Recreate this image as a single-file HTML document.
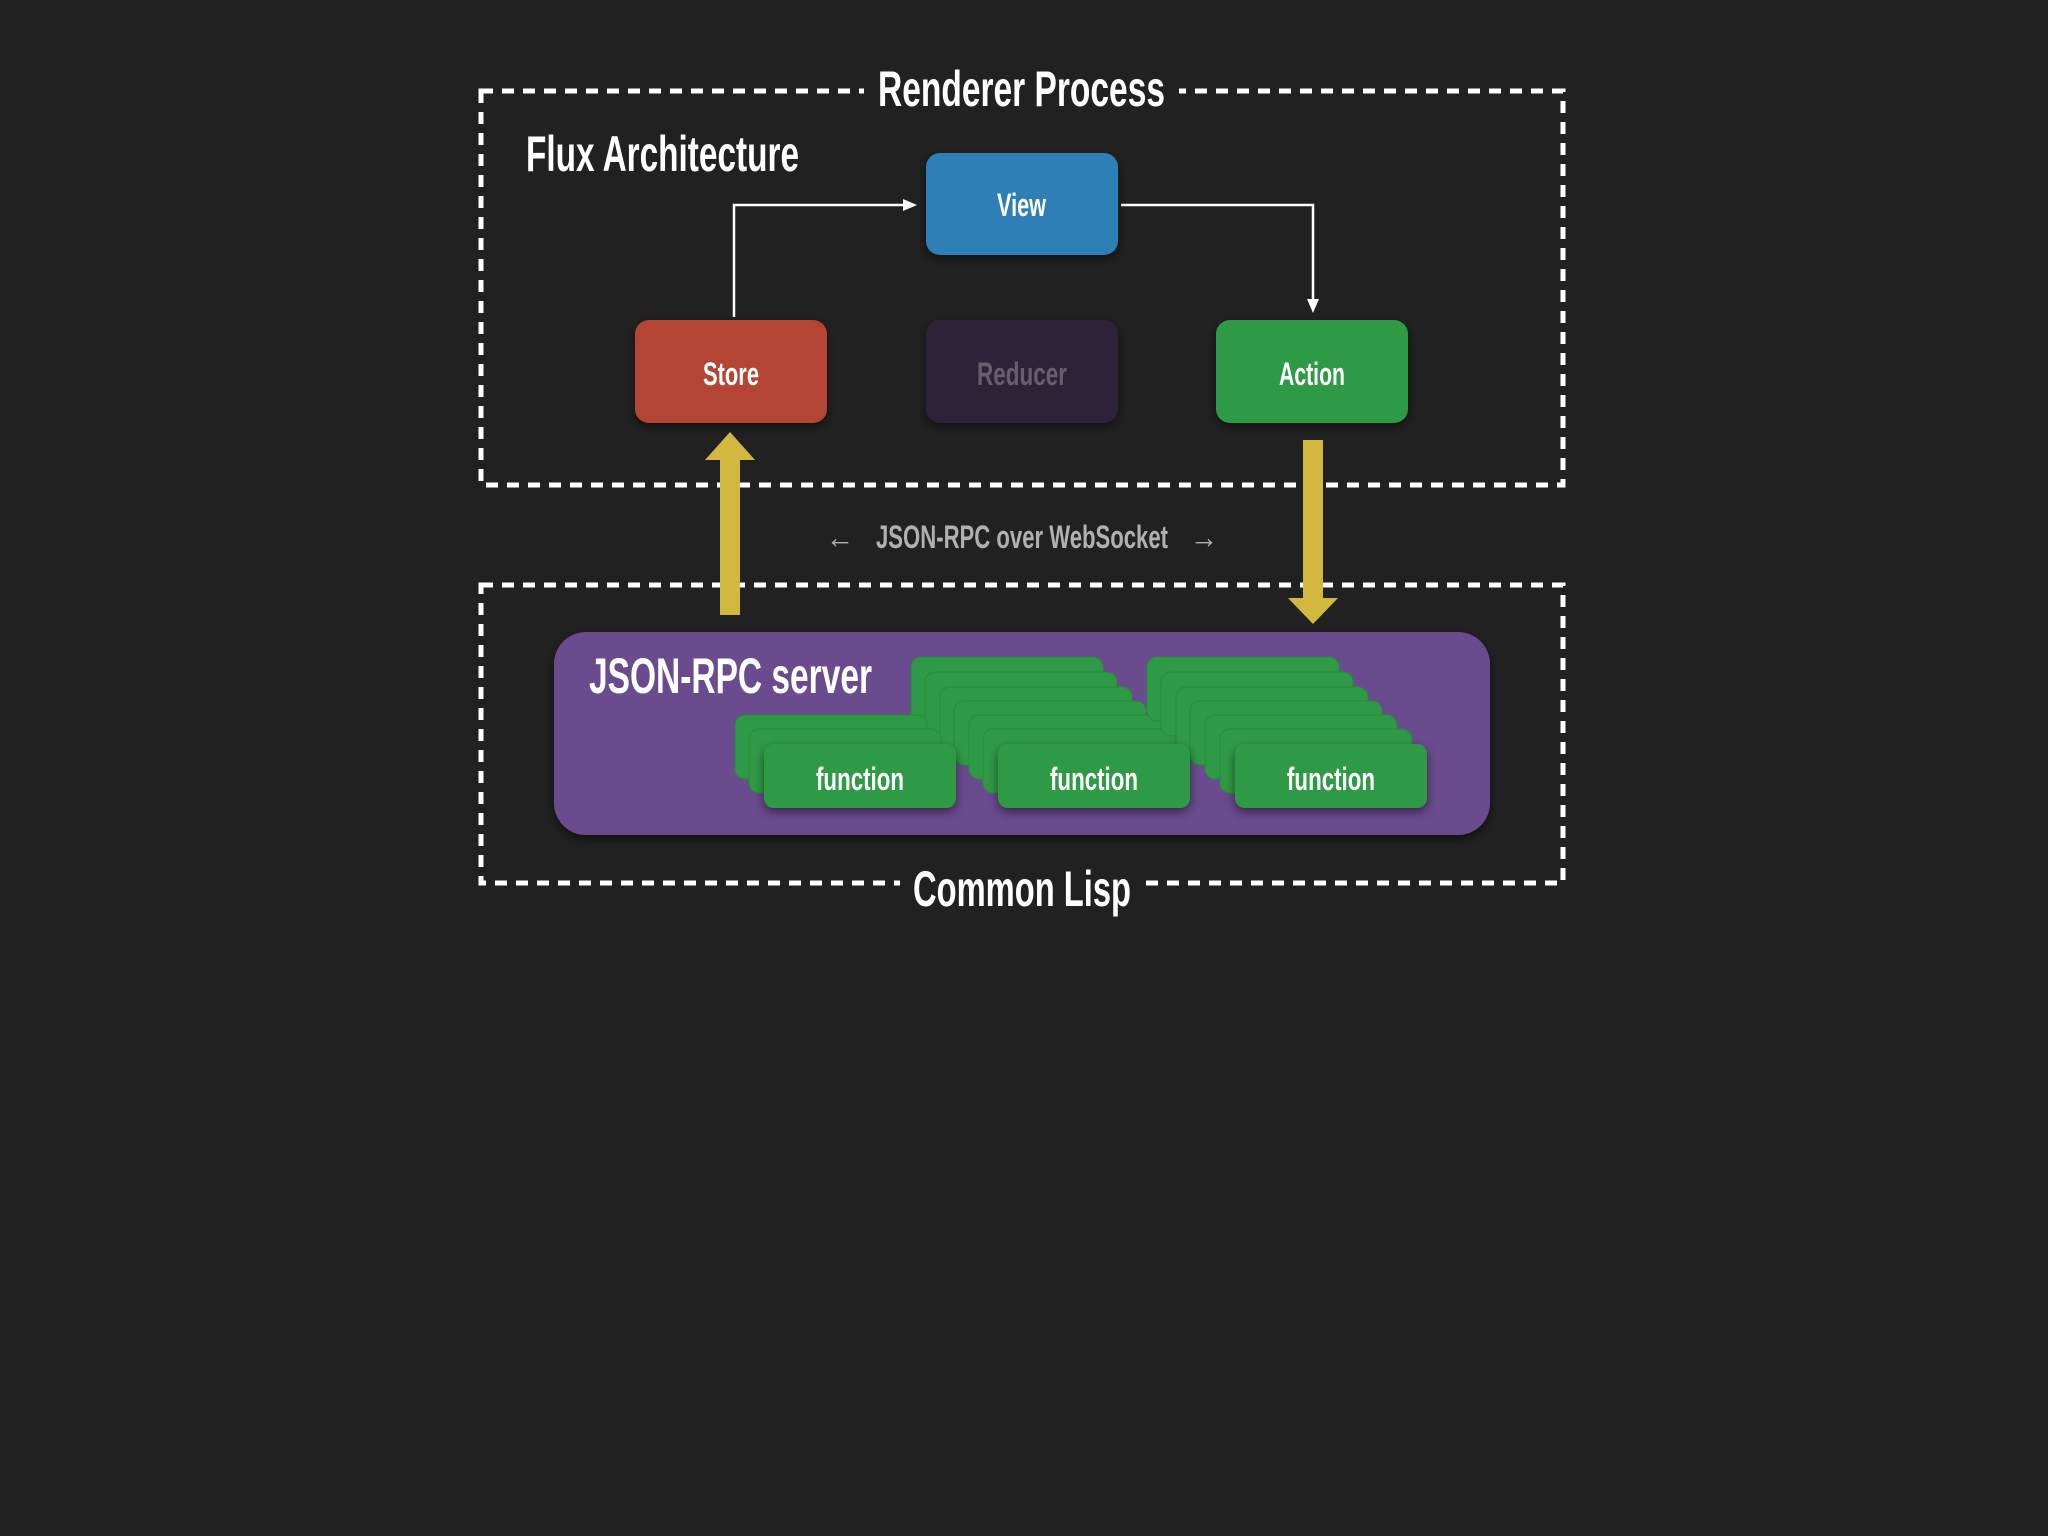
<!DOCTYPE html>
<html><head><meta charset="utf-8"><style>
html,body{margin:0;padding:0;background:#212121;}
svg{display:block}
text{font-family:"Liberation Sans",sans-serif;font-weight:bold}
</style></head><body>
<svg width="2048" height="1536" viewBox="0 0 2048 1536" xmlns="http://www.w3.org/2000/svg">
<defs>
<filter id="sh" x="-10%" y="-10%" width="120%" height="130%"><feDropShadow dx="0" dy="4" stdDeviation="5" flood-color="#000" flood-opacity="0.5"/></filter>
</defs>
<rect width="2048" height="1536" fill="#212121"/>
<!-- dashed boxes -->
<rect x="481" y="91" width="1082" height="394" fill="none" stroke="#fff" stroke-width="5" stroke-dasharray="12 9"/>
<rect x="481" y="585" width="1082" height="298" fill="none" stroke="#fff" stroke-width="5" stroke-dasharray="12 9"/>
<rect x="864" y="60" width="315" height="50" fill="#212121"/>
<rect x="900" y="860" width="244" height="50" fill="#212121"/>
<text x="878" y="106" font-size="50" fill="#fff" textLength="287" lengthAdjust="spacingAndGlyphs">Renderer Process</text>
<text x="913" y="906" font-size="50" fill="#fff" textLength="218" lengthAdjust="spacingAndGlyphs">Common Lisp</text>
<text x="526" y="171" font-size="50" fill="#fff" textLength="273" lengthAdjust="spacingAndGlyphs">Flux Architecture</text>
<!-- connectors -->
<polyline points="734,317 734,205 907,205" fill="none" stroke="#fff" stroke-width="2.5"/>
<polygon points="917,205 903,199 903,211" fill="#fff"/>
<polyline points="1121,205 1313,205 1313,302" fill="none" stroke="#fff" stroke-width="2.5"/>
<polygon points="1313,313 1307,299 1319,299" fill="#fff"/>
<!-- boxes -->
<rect x="926" y="153" width="192" height="102" rx="14" fill="#2f7fb6" filter="url(#sh)"/>
<rect x="635" y="320" width="192" height="103" rx="14" fill="#b44535" filter="url(#sh)"/>
<rect x="926" y="320" width="192" height="103" rx="14" fill="#2d2438" filter="url(#sh)"/>
<rect x="1216" y="320" width="192" height="103" rx="14" fill="#2f9a45" filter="url(#sh)"/>
<text x="997" y="216" font-size="32" fill="#fff" textLength="49" lengthAdjust="spacingAndGlyphs">View</text>
<text x="703" y="385" font-size="32" fill="#fff" textLength="56" lengthAdjust="spacingAndGlyphs">Store</text>
<text x="977" y="385" font-size="32" fill="#66606c" textLength="90" lengthAdjust="spacingAndGlyphs">Reducer</text>
<text x="1279" y="385" font-size="32" fill="#fff" textLength="66" lengthAdjust="spacingAndGlyphs">Action</text>
<!-- yellow arrows -->
<rect x="720" y="456" width="20" height="159" fill="#d3b83f"/>
<polygon points="730,432 705,460 755,460" fill="#d3b83f"/>
<rect x="1303" y="440" width="20" height="162" fill="#d3b83f"/>
<polygon points="1313,624 1288,598 1338,598" fill="#d3b83f"/>
<!-- middle label -->
<text x="826" y="548" font-size="32" fill="#b0b0b0" textLength="28" lengthAdjust="spacingAndGlyphs">←</text>
<text x="876" y="548" font-size="32" fill="#b0b0b0" textLength="292" lengthAdjust="spacingAndGlyphs">JSON-RPC over WebSocket</text>
<text x="1190" y="548" font-size="32" fill="#b0b0b0" textLength="28" lengthAdjust="spacingAndGlyphs">→</text>
<!-- purple server -->
<rect x="554" y="632" width="936" height="203" rx="32" fill="#6b4b8e" filter="url(#sh)"/>
<text x="589" y="693" font-size="50" fill="#fff" textLength="283" lengthAdjust="spacingAndGlyphs">JSON-RPC server</text>
<g fill="#2f9a45" stroke="#2a8a3d" stroke-width="1">
<!-- stack 2 -->
<rect x="911" y="657" width="192" height="64" rx="10"/>
<rect x="925" y="672" width="192" height="64" rx="10"/>
<rect x="940" y="687" width="192" height="64" rx="10"/>
<rect x="954" y="701" width="192" height="64" rx="10"/>
<rect x="969" y="715" width="192" height="64" rx="10"/>
<rect x="983" y="729" width="192" height="64" rx="10"/>
<!-- stack 3 -->
<rect x="1147" y="657" width="192" height="64" rx="10"/>
<rect x="1161" y="672" width="192" height="64" rx="10"/>
<rect x="1176" y="687" width="192" height="64" rx="10"/>
<rect x="1190" y="701" width="192" height="64" rx="10"/>
<rect x="1205" y="715" width="192" height="64" rx="10"/>
<rect x="1220" y="729" width="192" height="64" rx="10"/>
<!-- stack 1 -->
<rect x="735" y="715" width="192" height="64" rx="10"/>
<rect x="749" y="729" width="192" height="64" rx="10"/>
</g>
<g fill="#2f9a45" filter="url(#sh)">
<rect x="764" y="744" width="192" height="64" rx="10"/>
<rect x="998" y="744" width="192" height="64" rx="10"/>
<rect x="1235" y="744" width="192" height="64" rx="10"/>
</g>
<text x="816" y="790" font-size="32" fill="#fff" textLength="88" lengthAdjust="spacingAndGlyphs">function</text>
<text x="1050" y="790" font-size="32" fill="#fff" textLength="88" lengthAdjust="spacingAndGlyphs">function</text>
<text x="1287" y="790" font-size="32" fill="#fff" textLength="88" lengthAdjust="spacingAndGlyphs">function</text>
</svg>
</body></html>
